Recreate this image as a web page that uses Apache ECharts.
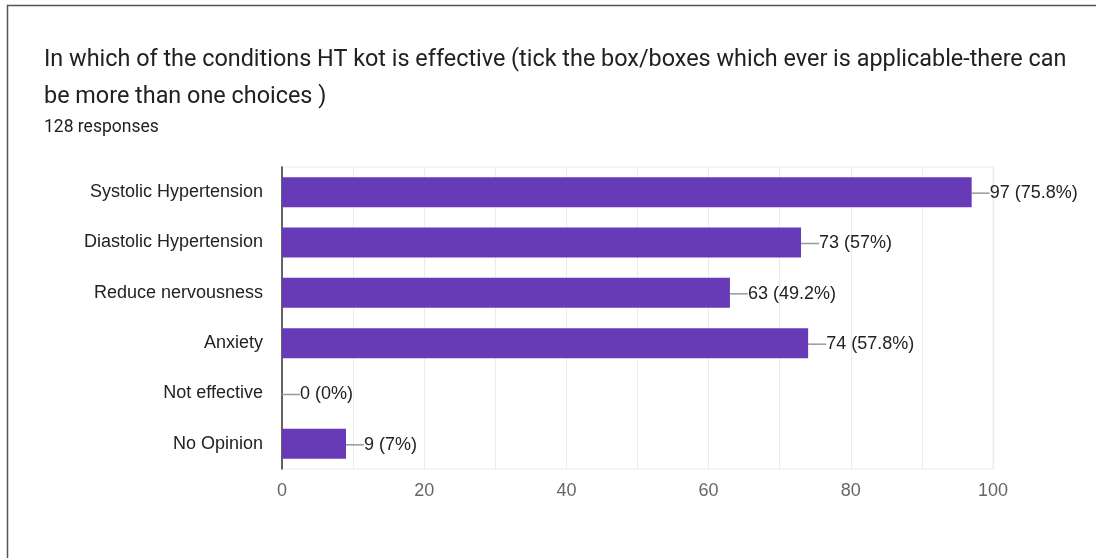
<!DOCTYPE html>
<html>
<head>
<meta charset="utf-8">
<script src="https://cdn.jsdelivr.net/npm/echarts@6/dist/echarts.min.js"></script>
<style>
  html, body { margin: 0; padding: 0; background: #fff; }
  #chart { width: 1096px; height: 558px; }
</style>
</head>
<body>
<div id="chart"></div>
<script>
// Survey answers: count of respondents choosing each condition
const categories = [
  'Systolic Hypertension',
  'Diastolic Hypertension',
  'Reduce nervousness',
  'Anxiety',
  'Not effective',
  'No Opinion'
];
const counts = [97, 73, 63, 74, 0, 9];
const percents = ['75.8%', '57%', '49.2%', '57.8%', '0%', '7%'];
const xTicks = [0, 20, 40, 60, 80, 100];

const titleText = 'In which of the conditions HT kot is effective (tick the box/boxes which ever is applicable-there can\nbe more than one choices )';
const subtitleText = '128 responses';

const chart = echarts.init(document.getElementById('chart'));

chart.setOption({
  backgroundColor: '#fff',
  animation: false,
  title: {
    text: titleText,
    subtext: subtitleText,
    left: 39,
    top: 37,
    itemGap: 3,
    textStyle: {
      fontFamily: 'Roboto',
      fontSize: 23.4,
      fontWeight: 'normal',
      color: '#202124',
      lineHeight: 37
    },
    subtextStyle: {
      fontFamily: 'Roboto',
      fontSize: 17.5,
      color: '#202124'
    }
  },
  graphic: [
    {
      type: 'polyline',
      shape: { points: [[7.5, 558], [7.5, 5.5], [1096, 5.5]] },
      style: { stroke: '#555', lineWidth: 1.5, fill: null },
      silent: true
    }
  ],
  grid: {
    left: 282,
    right: 103,
    top: 167,
    bottom: 89,
    show: true,
    borderColor: '#ebebeb',
    borderWidth: 1
  },
  xAxis: {
    type: 'value',
    min: xTicks[0],
    max: xTicks[xTicks.length - 1],
    interval: 20,
    axisLine: { show: false },
    axisTick: { show: false },
    axisLabel: {
      fontFamily: 'Liberation Sans',
      fontSize: 18,
      color: '#666',
      margin: 13
    },
    splitLine: { show: true, lineStyle: { color: '#ebebeb', width: 1 } },
    minorTick: { show: false, splitNumber: 2 },
    minorSplitLine: { show: true, lineStyle: { color: '#ebebeb', width: 1 } }
  },
  yAxis: {
    type: 'category',
    inverse: true,
    data: categories,
    axisLine: { show: true, lineStyle: { color: '#333', width: 1.5 } },
    axisTick: { show: false },
    axisLabel: {
      fontFamily: 'Liberation Sans',
      fontSize: 18,
      color: '#222',
      margin: 19,
      padding: [4, 0, 0, 0]
    },
    splitLine: { show: false }
  },
  series: [
    {
      type: 'bar',
      data: counts,
      barWidth: 30,
      itemStyle: { color: '#673ab7' },
      label: {
        show: true,
        position: 'right',
        distance: 0,
        fontFamily: 'Liberation Sans',
        fontSize: 18,
        color: '#222',
        formatter: (p) => p.value + ' (' + percents[p.dataIndex] + ')'
      },
      labelLayout: { dx: 18, dy: 1 },
      labelLine: {
        show: true,
        lineStyle: { color: '#999', width: 1.5 }
      }
    }
  ]
});
</script>
</body>
</html>
